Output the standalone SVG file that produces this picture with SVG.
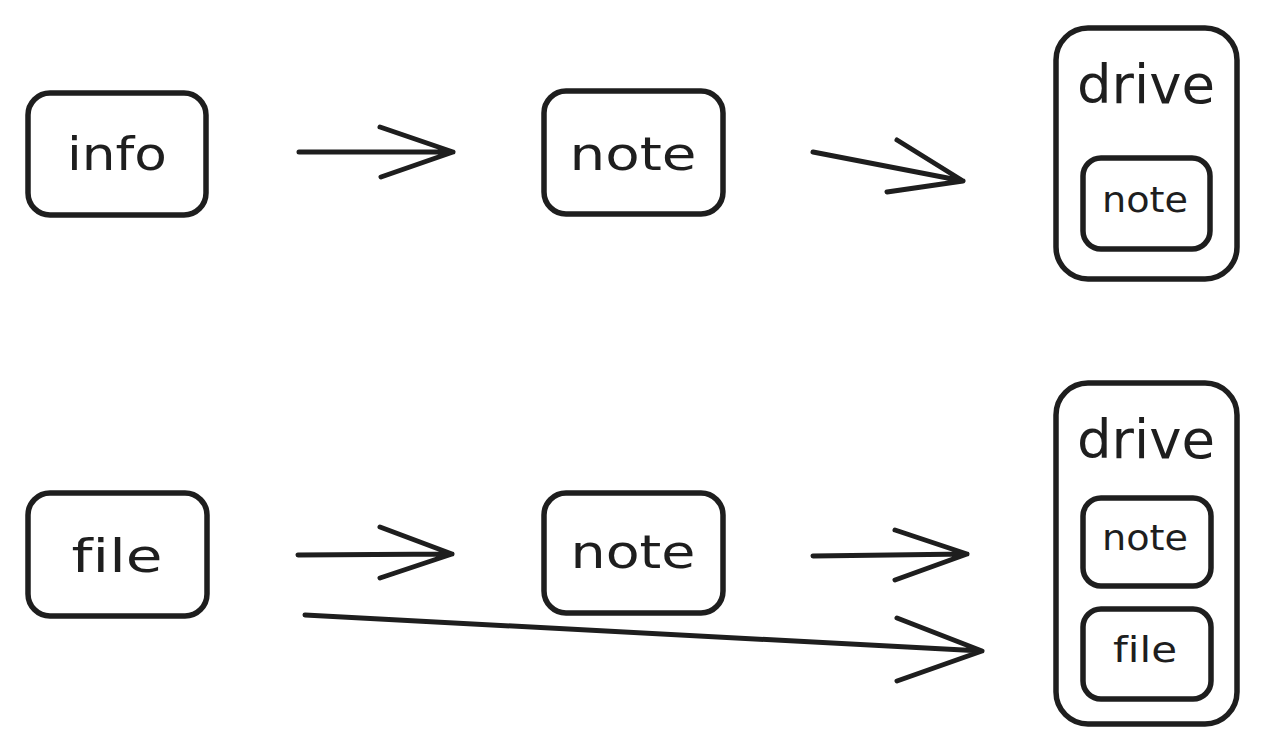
<svg xmlns="http://www.w3.org/2000/svg" width="1263" height="753" viewBox="0 0 1263 753">
<style>
.box{fill:none;stroke:#1e1e1e;stroke-width:5.5;stroke-linejoin:round}
.t{font-family:"DejaVu Sans","Noto Sans",sans-serif;fill:#1e1e1e;text-anchor:middle;font-variant-ligatures:none;font-feature-settings:"liga" 0}
.m{font-size:46px}
.d{font-size:54px}
.s{font-size:36px}
.c{fill:none;stroke:#1e1e1e;stroke-width:5;stroke-linecap:round;stroke-linejoin:round}
</style>
<rect width="1263" height="753" fill="#ffffff"/>
<g id="info">
<rect class="box" x="28" y="93" width="178" height="122" rx="22"/>
<text class="t m" x="117" y="170" textLength="100" lengthAdjust="spacingAndGlyphs">info</text>
</g>
<g id="note1">
<rect class="box" x="544" y="91" width="179" height="123" rx="22"/>
<text class="t m" x="633" y="170" textLength="127" lengthAdjust="spacingAndGlyphs">note</text>
</g>
<g id="drive1">
<rect class="box" x="1056" y="28" width="181" height="251" rx="32"/>
<text class="t d" x="1146" y="103" textLength="138" lengthAdjust="spacingAndGlyphs">drive</text>
</g>
<g id="drive1-note">
<rect class="box" x="1083" y="158" width="127" height="91" rx="18"/>
<text class="t s" x="1145" y="212" textLength="86" lengthAdjust="spacingAndGlyphs">note</text>
</g>
<g id="file">
<rect class="box" x="28" y="493" width="179" height="123" rx="22"/>
<text class="t m" x="117" y="572" textLength="91" lengthAdjust="spacingAndGlyphs">file</text>
</g>
<g id="note2">
<rect class="box" x="544" y="493" width="179" height="120" rx="22"/>
<text class="t m" x="633" y="568" textLength="125" lengthAdjust="spacingAndGlyphs">note</text>
</g>
<g id="drive2">
<rect class="box" x="1056" y="383" width="181" height="341" rx="32"/>
<text class="t d" x="1146" y="458" textLength="138" lengthAdjust="spacingAndGlyphs">drive</text>
</g>
<g id="drive2-note">
<rect class="box" x="1083" y="498" width="128" height="88" rx="18"/>
<text class="t s" x="1145" y="550" textLength="86" lengthAdjust="spacingAndGlyphs">note</text>
</g>
<g id="drive2-file">
<rect class="box" x="1083" y="609" width="128" height="90" rx="18"/>
<text class="t s" x="1145" y="662" textLength="64" lengthAdjust="spacingAndGlyphs">file</text>
</g>
<g id="connectors">
<path class="c" d="M299 152 L453 152 M380 127 L453 152 L381 177"/>
<path class="c" d="M813 152 L963 181 M897 140 L963 181 L887 192"/>
<path class="c" d="M298 555 L452 554 M380 527 L452 554 L380 578"/>
<path class="c" d="M813 556 L967 554 M895 530 L967 554 L895 580"/>
<path class="c" d="M305 615 L982 651 M897 618 L982 651 L897 681"/>
</g>
</svg>
